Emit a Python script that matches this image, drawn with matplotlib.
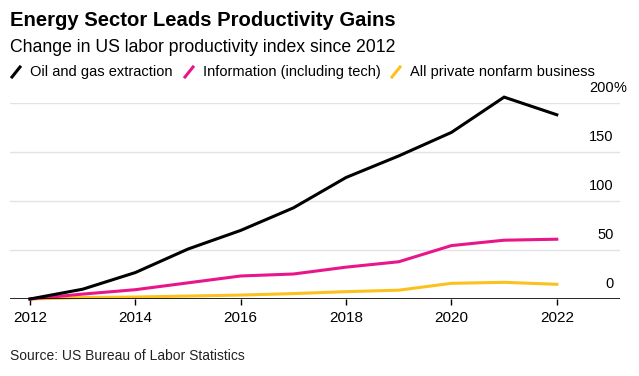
import matplotlib.pyplot as plt
from matplotlib.lines import Line2D

plt.rcParams['font.family'] = ['Liberation Sans', 'DejaVu Sans']

years = [2012, 2013, 2014, 2015, 2016, 2017, 2018, 2019, 2020, 2021, 2022]
oil_gas = [0, 10, 27, 51, 70, 93, 124, 146, 170, 206, 188]
information = [0, 5, 9.5, 16.5, 23.5, 25.5, 32.5, 38, 54.5, 60, 61]
private_nonfarm = [0, 1.5, 2, 3, 4, 5.5, 7.5, 9, 16, 17, 15]
series_names = ['Oil and gas extraction', 'Information (including tech)',
                'All private nonfarm business']
colors = ['#000000', '#e8168a', '#fcc11c']
y_ticks = [0, 50, 100, 150, 200]
x_ticks = [2012, 2014, 2016, 2018, 2020, 2022]

W, H = 639, 376
fig = plt.figure(figsize=(W / 100, H / 100), dpi=100)
# axes box in pixel terms: left 10, right 620, top 103, bottom 299
ax = fig.add_axes([10 / W, 1 - 299 / H, 610 / W, 196 / H])

for vals, c in zip([private_nonfarm, information, oil_gas], colors[::-1]):
    ax.plot(years, vals, color=c, lw=2.2, clip_on=False, solid_joinstyle='miter', zorder=3)

ax.set_xlim(2011.62, 2023.2)
ax.set_ylim(0, 200)
for s in ax.spines.values():
    s.set_visible(False)
ax.axhline(0, color='black', lw=1.2, zorder=4)
for v in y_ticks[1:]:
    ax.axhline(v, color='#e2e2e2', lw=1, zorder=1)

ax.set_yticks([])
ax.set_xticks(x_ticks)
ax.set_xticklabels([str(x) for x in x_ticks], fontsize=11)
ax.tick_params(axis='x', length=4, width=1, color='black', pad=5)

# y labels on right, sitting above gridlines
for v in y_ticks:
    ax.annotate(str(v), xy=(1, v), xycoords=('axes fraction', 'data'),
                xytext=(-4.5, 6), textcoords='offset points', ha='right', va='bottom', fontsize=10.5)
ax.annotate('%', xy=(1, 200), xycoords=('axes fraction', 'data'),
            xytext=(-4.5, 6), textcoords='offset points', ha='left', va='bottom', fontsize=10.5)

fig.text(10 / W, 1 - 21 / H, 'Energy Sector Leads Productivity Gains', fontsize=14.6,
         fontweight='bold', va='center', ha='left')
fig.text(10 / W, 1 - 47 / H, 'Change in US labor productivity index since 2012', fontsize=12.7,
         va='center', ha='left')

# legend with slanted strokes
leg_x = [12, 185, 392]
for x0, name, c in zip(leg_x, series_names, colors):
    fig.add_artist(Line2D([x0 / W, (x0 + 8) / W], [1 - 77 / H, 1 - 67 / H], color=c, lw=2.2,
                          transform=fig.transFigure))
    fig.text((x0 + 18) / W, 1 - 72 / H, name, fontsize=10.5, va='center', ha='left')

fig.text(10 / W, 1 - 356 / H, 'Source: US Bureau of Labor Statistics', fontsize=10,
         va='center', ha='left', color='#222222')

fig.savefig('out.png', dpi=100)
